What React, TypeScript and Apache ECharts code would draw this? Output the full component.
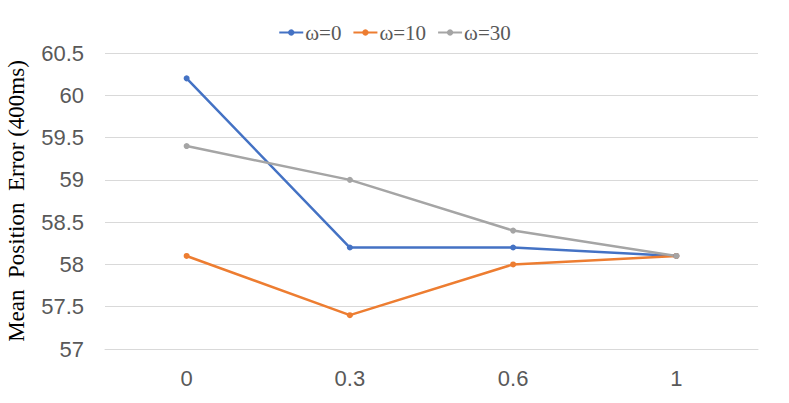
import React, { useEffect, useRef } from "react";
import * as echarts from "echarts";

const categories = ["0", "0.3", "0.6", "1"];
const seriesNames = ["ω=0", "ω=10", "ω=30"];
const omega0 = [60.2, 58.2, 58.2, 58.1];
const omega10 = [58.1, 57.4, 58.0, 58.1];
const omega30 = [59.4, 59.0, 58.4, 58.1];
const colors = ["#4472C4", "#ED7D31", "#A5A5A5"];

export default function App() {
  const ref = useRef<HTMLDivElement>(null);
  useEffect(() => {
    if (!ref.current) return;
    const chart = echarts.init(ref.current, null, { renderer: "svg" });
    const data = [omega0, omega10, omega30];
    chart.setOption({
      animation: false,
      color: colors,
      legend: {
        top: 17,
        left: "center",
        itemWidth: 24,
        itemHeight: 8,
        itemGap: 11,
        textStyle: { fontFamily: "Liberation Serif", fontSize: 21, color: "#595959", padding: [0, 0, 0, -3] },
        data: seriesNames,
      },
      grid: { left: 105, right: 31, top: 53, bottom: 54, outerBoundsMode: "none", containLabel: false },
      xAxis: {
        type: "category",
        data: categories,
        boundaryGap: true,
        axisLine: { show: true, lineStyle: { color: "#d9d9d9" } },
        axisTick: { show: false },
        axisLabel: {
          color: "#595959",
          fontFamily: "Liberation Sans",
          fontSize: 22,
          margin: 18,
        },
      },
      yAxis: {
        type: "value",
        min: 57,
        max: 60.5,
        interval: 0.5,
        name: "Mean  Position  Error (400ms)",
        nameLocation: "middle",
        nameGap: 77,
        nameTextStyle: { fontFamily: "Liberation Serif", fontSize: 23, color: "#000" },
        axisLine: { show: false },
        axisTick: { show: false },
        splitLine: { lineStyle: { color: "#d9d9d9", width: 1 } },
        axisLabel: {
          color: "#595959",
          fontFamily: "Liberation Sans",
          fontSize: 22,
          margin: 21,
        },
      },
      series: seriesNames.map((name, i) => ({
        name,
        type: "line",
        data: data[i],
        symbol: "circle",
        symbolSize: 6,
        lineStyle: { width: 2.5, color: colors[i] },
        itemStyle: { color: colors[i] },
      })),
    });
    return () => chart.dispose();
  }, []);
  return <div ref={ref} style={{ width: 789, height: 403, position: "absolute", left: 0, top: 0 }} />;
}
